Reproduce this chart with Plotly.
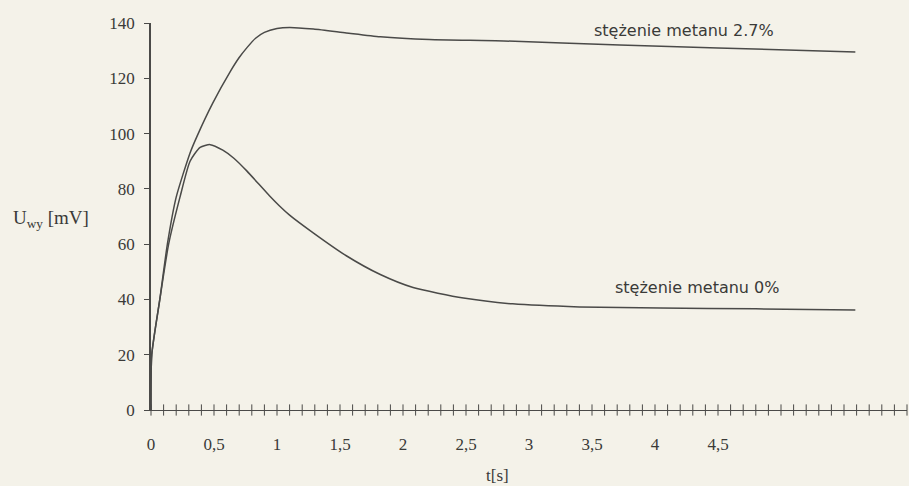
import numpy as np
import plotly.graph_objects as go

# --- data ---
t_27 = [0, 0.006, 0.07, 0.13, 0.2, 0.31, 0.365, 0.49, 0.63, 0.7, 0.76, 0.83, 0.9,
        1.0, 1.1, 1.29, 1.55, 1.82, 2.21, 2.8, 3.72, 4.5, 5.59]
u_27 = [0, 20, 40, 60, 77, 93, 99, 111, 122.5, 127.5, 131, 134.5, 136.6,
        138, 138.4, 137.8, 136.4, 135, 134, 133.5, 132, 131, 129.5]

t_0 = [0, 0.006, 0.07, 0.14, 0.23, 0.31, 0.39, 0.47, 0.57, 0.66, 0.76, 0.94, 1.02,
       1.1, 1.29, 1.55, 1.82, 2.08, 2.48, 2.87, 3.4, 4.04, 4.8, 5.59]
u_0 = [0, 20, 40, 60, 77, 90, 95, 96, 94, 91, 86.5, 77.5, 73.8,
       70.5, 64, 55.8, 49, 44.3, 40.5, 38.4, 37.3, 36.9, 36.6, 36.2]

x_tickvals = [0, 0.5, 1, 1.5, 2, 2.5, 3, 3.5, 4, 4.5]
x_ticktext = ["0", "0,5", "1", "1,5", "2", "2,5", "3", "3,5", "4", "4,5"]
y_tickvals = [0, 20, 40, 60, 80, 100, 120, 140]

label_27 = "stężenie metanu 2.7%"
label_0 = "stężenie metanu 0%"

BG = "#f4f2e9"
INK = "#4a4a48"
TXT = "#3a3a38"
SERIF = "Liberation Serif"
SANS = "DejaVu Sans"

fig = go.Figure()

# crossing minor ticks on the time axis
minor_t = np.round(np.arange(0, 6.01, 0.1), 2)
fig.add_trace(go.Scatter(x=minor_t, y=np.zeros_like(minor_t), mode="markers",
                         marker=dict(symbol="line-ns-open", size=8, color=INK,
                                     line=dict(color=INK, width=1)),
                         hoverinfo="skip", showlegend=False, cliponaxis=False))

for t, u in [(t_27, u_27), (t_0, u_0)]:
    fig.add_trace(go.Scatter(x=t, y=u, mode="lines",
                             line=dict(color=INK, width=1.5, shape="spline", smoothing=0.6),
                             showlegend=False, cliponaxis=False))

fig.update_layout(
    width=909, height=486,
    paper_bgcolor=BG, plot_bgcolor=BG,
    margin=dict(l=151, r=2, t=23, b=76),
    font=dict(family=SERIF, size=17, color=TXT),
    xaxis=dict(range=[0, 6], tickvals=x_tickvals, ticktext=x_ticktext,
               showgrid=False, zeroline=False, showline=True, linecolor=INK,
               linewidth=1.2, ticks="", ticklabelstandoff=18),
    yaxis=dict(range=[0, 140], tickvals=y_tickvals, showgrid=False, zeroline=False,
               showline=True, linecolor=INK, linewidth=1.5, ticks="outside",
               ticklen=5, tickcolor=INK, ticklabelstandoff=6),
)

# annotations placed by pixel position, converted into paper coordinates
L, R, T, B = 151, 907, 23, 410
def px2paper(px, py):
    return (px - L) / (R - L), (B - py) / (B - T)

ann = [
    (label_27, 592, 30, "left", SANS, 16),
    (label_0, 613, 287, "left", SANS, 16),
    ("U<sub>wy</sub> [mV]", 11, 219, "left", SERIF, 19),
    ("t[s]", 497, 475, "center", SERIF, 17),
]
for text, px, py, xa, fam, sz in ann:
    x, y = px2paper(px, py)
    fig.add_annotation(text=text, x=x, y=y, xref="paper", yref="paper",
                       xanchor=xa, yanchor="middle", showarrow=False,
                       font=dict(family=fam, size=sz, color=TXT))

fig.write_html("out.html", config={"displayModeBar": False},
               post_script="document.body.style.margin='0';")
